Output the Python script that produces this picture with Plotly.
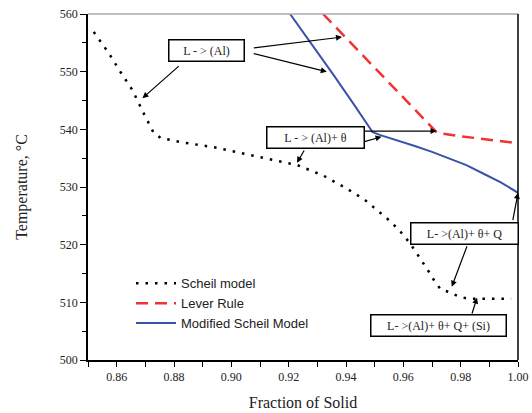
import plotly.graph_objects as go

# Scheil model (dotted)
scheil_x = [0.852, 0.857, 0.8614, 0.8655, 0.8694, 0.8728, 0.8753, 0.8822, 0.895, 0.910, 0.923,
            0.932, 0.940, 0.9465, 0.9521, 0.9556, 0.9591, 0.9619, 0.9643, 0.9668, 0.9689, 0.9706,
            0.9731, 0.9759, 0.9794, 0.9829, 0.990, 0.9976]
scheil_t = [556.9, 553.4, 549.9, 546.8, 542.8, 539.5, 538.5, 537.8, 536.8, 535.2, 533.8,
            532.0, 529.8, 527.8, 525.5, 524.0, 522.2, 520.5, 518.8, 517.0, 515.3, 513.9,
            512.2, 511.8, 511.0, 510.6, 510.6, 510.6]

# Lever rule (dashed)
lever_x = [0.932, 0.9718, 0.980, 1.0]
lever_t = [560.0, 539.4, 538.8, 537.6]

# Modified Scheil model (solid)
mod_x = [0.9205, 0.928, 0.9357, 0.9425, 0.9493, 0.952, 0.958, 0.964, 0.970, 0.976, 0.982,
         0.988, 0.994, 1.0]
mod_t = [560.0, 554.8, 549.4, 544.5, 539.5, 539.0, 538.1, 537.1, 536.1, 535.0, 533.8,
         532.3, 530.8, 529.0]

x_ticks = [0.86, 0.88, 0.90, 0.92, 0.94, 0.96, 0.98, 1.00]
x_ticklabels = ["0.86", "0.88", "0.90", "0.92", "0.94", "0.96", "0.98", "1.00"]
y_ticks = [500, 510, 520, 530, 540, 550, 560]

# annotation boxes: text, x, y, width
boxes = [
    ("L - > (Al)", 0.8913, 553.6, 68),
    ("L - > (Al)+ \u03b8", 0.9292, 538.5, 90),
    ("L- >(Al)+ \u03b8+ Q", 0.9814, 522.0, 100),
    ("L- >(Al)+ \u03b8+ Q+ (Si)", 0.9722, 505.9, 128),
]
# arrows: head x, head y, tail x, tail y
arrows = [
    (0.8690, 545.4, 0.8822, 551.2),
    (0.9386, 556.0, 0.9073, 554.1),
    (0.9333, 550.0, 0.9073, 553.2),
    (0.9716, 539.7, 0.9459, 539.7),
    (0.9524, 538.7, 0.9459, 537.8),
    (0.9229, 534.2, 0.9257, 536.6),
    (0.9769, 512.7, 0.9824, 520.0),
    (1.0, 529.0, 0.9981, 524.0),
    (0.9857, 510.8, 0.9838, 507.8),
]

fig = go.Figure()
fig.add_trace(go.Scatter(x=scheil_x, y=scheil_t, mode="lines", name="Scheil model",
                         line=dict(color="black", width=2.5, dash="2.5px,7px")))
fig.add_trace(go.Scatter(x=lever_x, y=lever_t, mode="lines", name="Lever Rule",
                         line=dict(color="#f03232", width=2.5, dash="12px,7px")))
fig.add_trace(go.Scatter(x=mod_x, y=mod_t, mode="lines", name="Modified Scheil Model",
                         line=dict(color="#3a52a8", width=2)))

serif = "Liberation Serif, Times New Roman, serif"
annots = []
for hx, hy, tx, ty in arrows:
    annots.append(dict(x=hx, y=hy, ax=tx, ay=ty, xref="x", yref="y", axref="x", ayref="y",
                       text="", showarrow=True, arrowhead=2, arrowsize=1, arrowwidth=1.2,
                       arrowcolor="black", standoff=0))
for txt, bx, by, w in boxes:
    annots.append(dict(x=bx, y=by, xref="x", yref="y", text=txt, showarrow=False,
                       font=dict(family=serif, size=12, color="#222"),
                       bordercolor="black", borderwidth=1.5, borderpad=3,
                       bgcolor="white", width=w, align="center"))

fig.update_layout(
    width=532, height=413,
    margin=dict(l=88, r=14, t=14, b=53),
    paper_bgcolor="white", plot_bgcolor="white",
    showlegend=True,
    legend=dict(x=0.1, y=0.265, xanchor="left", yanchor="top", bgcolor="rgba(0,0,0,0)",
                font=dict(family="Liberation Sans, Arial, sans-serif", size=13, color="#222"),
                tracegroupgap=0, itemwidth=40),
    annotations=annots,
    xaxis=dict(range=[0.85, 1.0], tickvals=x_ticks, ticktext=x_ticklabels, automargin=False,
               showline=True, linecolor="black", linewidth=1.5, mirror=False,
               ticks="outside", ticklen=5, tickwidth=1.2, tickcolor="black",
               minor=dict(dtick=0.01, tick0=0.85, ticks="outside", ticklen=5, tickwidth=1.2, tickcolor="black"),
               showgrid=False, zeroline=False,
               tickfont=dict(family=serif, size=12, color="#222"),
               title=dict(text="Fraction of Solid", font=dict(family=serif, size=16, color="#222"), standoff=14)),
    yaxis=dict(range=[500, 560], tickvals=y_ticks, automargin=False,
               showline=True, linecolor="black", linewidth=1.5, mirror=False,
               ticks="outside", ticklen=6, tickwidth=1.2, tickcolor="black",
               minor=dict(dtick=5, tick0=500, ticks="outside", ticklen=4, tickwidth=1.2, tickcolor="black"),
               showgrid=False, zeroline=False,
               tickfont=dict(family=serif, size=12, color="#222"),
               title=dict(text="Temperature, \u00b0C", font=dict(family=serif, size=16, color="#222"), standoff=28)),
    shapes=[
        dict(type="line", xref="paper", yref="paper", x0=0, x1=1, y0=1, y1=1,
             line=dict(color="#aaaaaa", width=1.5)),
        dict(type="line", xref="paper", yref="paper", x0=1, x1=1, y0=0, y1=1,
             line=dict(color="black", width=1.5)),
    ],
)

fig.write_html("out.html")
